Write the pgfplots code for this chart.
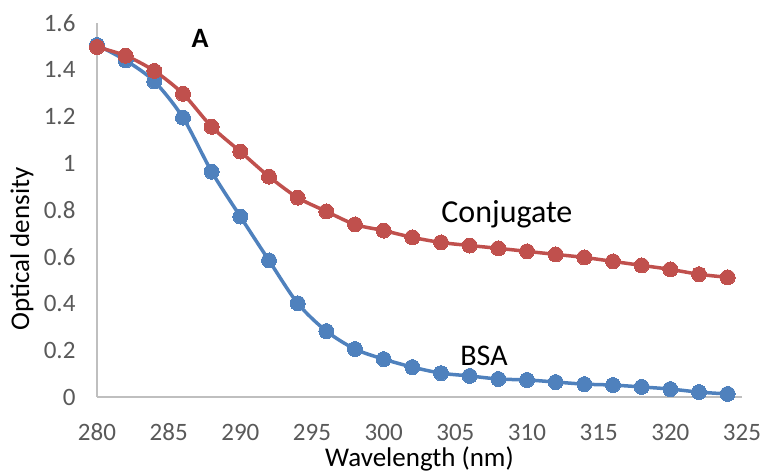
\documentclass[border=0pt]{standalone}
\usepackage{pgfplots}
\pgfplotsset{compat=1.18}
\usepackage{fontspec}
\setmainfont{Carlito}
\definecolor{bsa}{HTML}{4F81BD}
\definecolor{conj}{HTML}{C0504D}
\definecolor{ticktxt}{HTML}{595959}
\definecolor{axline}{HTML}{BFBFBF}
\begin{document}
\begin{tikzpicture}
\begin{axis}[
  scale only axis, width=645pt, height=374pt,
  xmin=280, xmax=325, ymin=0, ymax=1.6,
  axis lines=left, axis line style={axline, line width=1.2pt, -},
  xtick={280,285,...,325}, ytick={0,0.2,...,1.6},
  yticklabels={0,0.2,0.4,0.6,0.8,1,1.2,1.4,1.6},
  major tick length=0pt,
  tick label style={font=\fontsize{25}{28}\selectfont, text=ticktxt},
  /pgf/number format/assume math mode=true,
  xticklabel style={anchor=center, yshift=-35pt},
  yticklabel style={anchor=east, xshift=-18pt},
  xlabel={Wavelength (nm)}, ylabel={Optical density},
  label style={font=\fontsize{27}{32}\selectfont},
  xlabel style={at={(axis description cs:0.5,0)}, anchor=center, yshift=-62pt},
  ylabel style={at={(axis description cs:0,0.5)}, anchor=center, yshift=75pt, xshift=-39pt},
  clip=false,
]
\addplot[bsa, line width=3.5pt, smooth, tension=0.5, mark=*, mark size=7.5pt, mark options={line width=0pt, fill=bsa}] coordinates {
(280,1.506) (282,1.44) (284,1.35) (286,1.195) (288,0.964) (290,0.772) (292,0.584)
(294,0.401) (296,0.282) (298,0.205) (300,0.162) (302,0.128) (304,0.102) (306,0.090)
(308,0.077) (310,0.073) (312,0.064) (314,0.055) (316,0.051) (318,0.043) (320,0.034)
(322,0.021) (324,0.013)};
\addplot[conj, line width=3.5pt, smooth, tension=0.5, mark=*, mark size=7.5pt, mark options={line width=0pt, fill=conj}] coordinates {
(280,1.497) (282,1.46) (284,1.395) (286,1.297) (288,1.156) (290,1.05) (292,0.943)
(294,0.853) (296,0.794) (298,0.738) (300,0.712) (302,0.683) (304,0.661) (306,0.648)
(308,0.636) (310,0.623) (312,0.61) (314,0.597) (316,0.58) (318,0.563) (320,0.546)
(322,0.525) (324,0.512)};
\node[font=\fontsize{28}{32}\selectfont\bfseries] at (axis cs:287.2,1.535) {A};
\node[font=\fontsize{32}{36}\selectfont] at (axis cs:308.6,0.78) {Conjugate};
\node[font=\fontsize{30}{34}\selectfont] at (axis cs:307.0,0.175) {BSA};
\end{axis}
\pgfresetboundingbox
\path (-97pt,-76pt) rectangle (665pt,397pt);
\end{tikzpicture}
\end{document}
